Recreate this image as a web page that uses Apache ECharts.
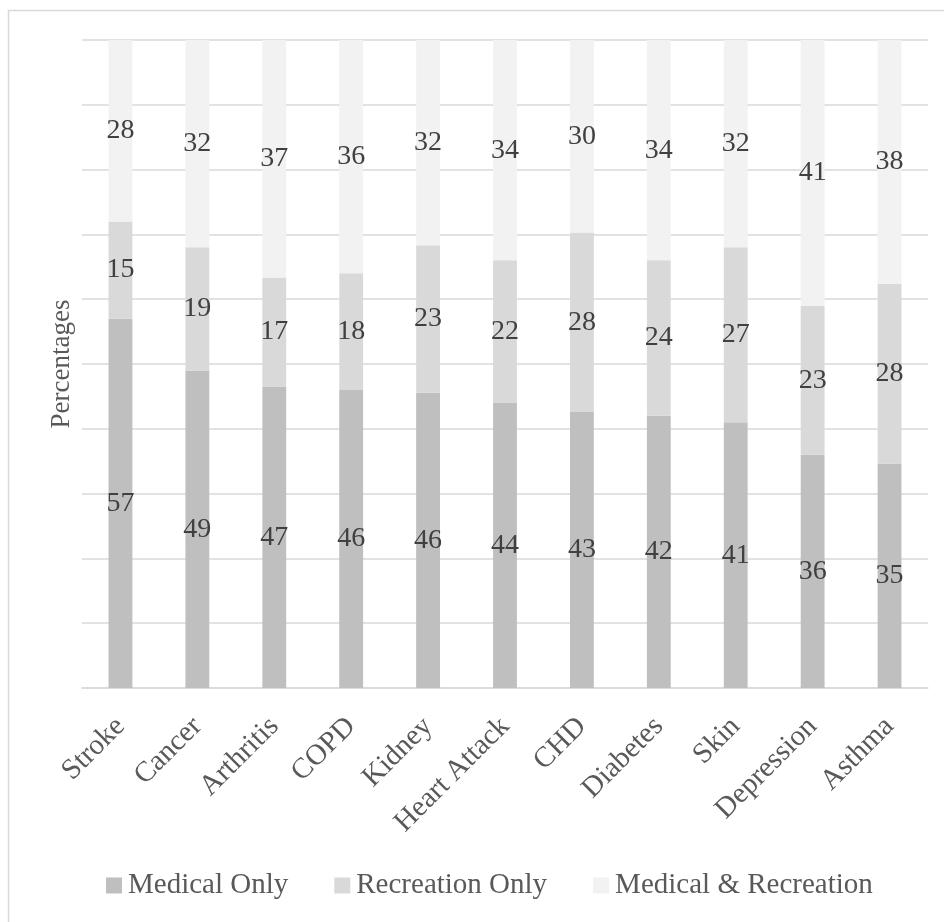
<!DOCTYPE html>
<html>
<head>
<meta charset="utf-8">
<script src="https://cdn.jsdelivr.net/npm/echarts@6/dist/echarts.min.js"></script>
<style>
html,body{margin:0;padding:0;background:#fff;}
#chart{width:944px;height:922px;}
</style>
</head>
<body>
<div id="chart"></div>
<script>
const categories = ['Stroke','Cancer','Arthritis','COPD','Kidney','Heart Attack','CHD','Diabetes','Skin','Depression','Asthma'];
const medicalOnly = [57,49,47,46,46,44,43,42,41,36,35];
const recreationOnly = [15,19,17,18,23,22,28,24,27,23,28];
const medicalAndRecreation = [28,32,37,36,32,34,30,34,32,41,38];
const seriesNames = ['Medical Only','Recreation Only','Medical & Recreation'];
const yTicks = [0,10,20,30,40,50,60,70,80,90,100];

const FONT = '"Liberation Serif", serif';
const raw = [medicalOnly, recreationOnly, medicalAndRecreation];
const colors = ['#bfbfbf','#d9d9d9','#f2f2f2'];
const totals = categories.map((c,i)=>raw.reduce((s,a)=>s+a[i],0));

const chart = echarts.init(document.getElementById('chart'));
chart.setOption({
  animation:false,
  backgroundColor:'#ffffff',
  textStyle:{fontFamily:FONT},
  graphic:[{type:'rect',shape:{x:8.5,y:10.5,width:1000,height:1000},style:{fill:'none',stroke:'#d9d9d9',lineWidth:1.5},silent:true}],
  grid:{left:82,right:16,top:40,bottom:234,containLabel:false},
  legend:{
    data:seriesNames, left:106, top:871, padding:0,
    itemWidth:16, itemHeight:16, itemGap:46, icon:'rect',
    textStyle:{fontFamily:FONT,fontSize:29,color:'#595959',padding:[0,0,0,1]}
  },
  xAxis:{
    type:'category', data:categories,
    axisLine:{lineStyle:{color:'#d9d9d9',width:1.5}},
    axisTick:{show:false},
    axisLabel:{rotate:45,interval:0,margin:34,fontFamily:FONT,fontSize:29,color:'#595959'}
  },
  yAxis:{
    type:'value', min:yTicks[0], max:yTicks[yTicks.length-1], interval:yTicks[1]-yTicks[0],
    name:'Percentages', nameLocation:'middle', nameGap:7, nameRotate:90,
    nameTextStyle:{fontFamily:FONT,fontSize:27,color:'#595959'},
    axisLabel:{show:false}, axisTick:{show:false}, axisLine:{show:false},
    splitLine:{lineStyle:{color:'#d9d9d9',width:1.5}}
  },
  series: raw.map((arr,k)=>({
    name:seriesNames[k], type:'bar', stack:'total', barWidth:'31%',
    itemStyle:{color:colors[k]},
    data: arr.map((v,i)=>v/totals[i]*100),
    label:{show:true,position:'inside',fontFamily:FONT,fontSize:28,color:'#404040',
      formatter:(p)=>String(arr[p.dataIndex])}
  }))
});
</script>
</body>
</html>
